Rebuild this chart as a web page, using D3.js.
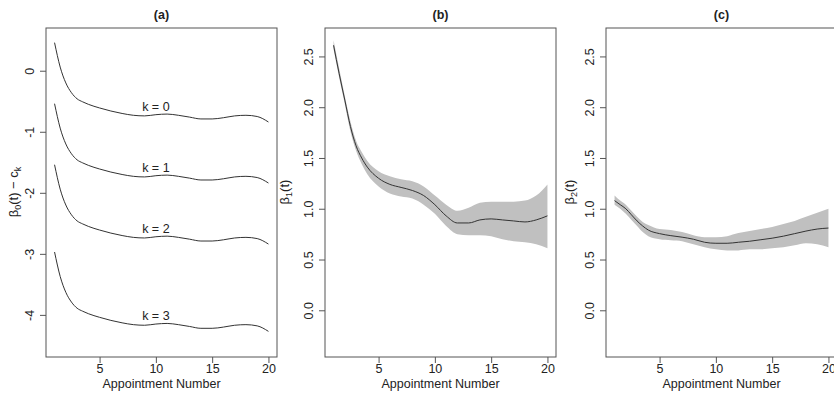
<!DOCTYPE html>
<html>
<head>
<meta charset="utf-8">
<script src="https://cdn.jsdelivr.net/npm/d3@7"></script>
<style>
  body { margin: 0; background: #fff; }
  svg { font-family: "Liberation Sans", Arial, sans-serif; }
</style>
</head>
<body>
<div id="chart"></div>
<script>
// appointment grid the curves were read at
var tGrid = [1, 1.5, 2, 2.5, 3, 3.5, 4, 5, 6, 7, 8, 9, 10, 11, 12, 13, 14, 15, 16, 17, 18, 19, 20];

// panel (a): beta0(t), shifted by c_k
var base0 = [0.46, 0.06, -0.20, -0.36, -0.46, -0.51, -0.55, -0.61, -0.66, -0.70, -0.73, -0.74, -0.72, -0.71, -0.73, -0.76, -0.79, -0.79, -0.77, -0.74, -0.73, -0.75, -0.84];
var cK = [0, 1, 2, 3.43];
var kLabels = ["k = 0", "k = 1", "k = 2", "k = 3"];

// panel (b): beta1(t) with band
var beta1 = [2.61, 2.33, 2.07, 1.81, 1.62, 1.50, 1.41, 1.30, 1.24, 1.21, 1.18, 1.13, 1.04, 0.93, 0.86, 0.86, 0.89, 0.90, 0.89, 0.88, 0.87, 0.89, 0.93];
var beta1Lo = [2.57, 2.29, 2.03, 1.76, 1.57, 1.44, 1.34, 1.22, 1.15, 1.12, 1.10, 1.04, 0.95, 0.83, 0.75, 0.74, 0.74, 0.73, 0.70, 0.68, 0.67, 0.65, 0.61];
var beta1Hi = [2.66, 2.38, 2.11, 1.86, 1.67, 1.56, 1.47, 1.37, 1.32, 1.29, 1.27, 1.22, 1.13, 1.04, 0.98, 1.01, 1.06, 1.07, 1.07, 1.07, 1.08, 1.13, 1.24];

// panel (c): beta2(t) with band
var beta2 = [1.08, 1.04, 1.00, 0.94, 0.88, 0.83, 0.79, 0.755, 0.735, 0.72, 0.70, 0.67, 0.66, 0.66, 0.67, 0.68, 0.695, 0.71, 0.73, 0.755, 0.78, 0.80, 0.81];
var beta2Lo = [1.04, 1.00, 0.95, 0.89, 0.83, 0.77, 0.73, 0.70, 0.69, 0.68, 0.65, 0.62, 0.60, 0.59, 0.59, 0.60, 0.60, 0.61, 0.62, 0.64, 0.66, 0.65, 0.62];
var beta2Hi = [1.13, 1.08, 1.04, 0.98, 0.92, 0.87, 0.84, 0.80, 0.79, 0.77, 0.74, 0.72, 0.72, 0.73, 0.76, 0.78, 0.80, 0.82, 0.85, 0.88, 0.92, 0.96, 1.00];

var xTicks = [5, 10, 15, 20];
var yTicksA = [-4, -3, -2, -1, 0];
var yTicksBC = [0, 0.5, 1, 1.5, 2, 2.5];

var W = 834, H = 394;
var plotTop = 28, ph = 329, pw = 231;
var textCol = "#222", boxCol = "#555", lineCol = "#333", bandCol = "#c0c0c0";

var svg = d3.select("#chart").append("svg")
  .attr("width", W)
  .attr("height", H);

var drawPanel = function(left, title, yDomain, yTicks, yFmt) {
  var x = d3.scaleLinear().domain([0.24, 20.76]).range([0, pw]);
  var y = d3.scaleLinear().domain(yDomain).range([ph, 0]);

  var g = svg.append("g")
    .attr("transform", "translate(" + left + "," + plotTop + ")");

  // x axis
  var xa = g.append("g")
    .attr("transform", "translate(0," + ph + ")")
    .call(d3.axisBottom(x).tickValues(xTicks).tickSize(6).tickPadding(1).tickSizeOuter(0));
  xa.select(".domain").remove();
  xa.selectAll("line").attr("stroke", boxCol);
  xa.selectAll("text").attr("fill", textCol).style("font-size", "12.5px");

  // y axis, labels parallel to the axis
  var ya = g.append("g")
    .call(d3.axisLeft(y).tickValues(yTicks).tickSize(6).tickFormat(yFmt).tickSizeOuter(0));
  ya.select(".domain").remove();
  ya.selectAll("line").attr("stroke", boxCol);
  ya.selectAll("text")
    .attr("fill", textCol)
    .style("font-size", "12.5px")
    .attr("x", null).attr("dy", null)
    .attr("text-anchor", "middle")
    .attr("dominant-baseline", "central")
    .attr("transform", "translate(-16,0) rotate(-90)");

  g.append("text")
    .attr("x", pw / 2)
    .attr("y", -9)
    .attr("text-anchor", "middle")
    .attr("fill", textCol)
    .style("font-size", "12.5px")
    .style("font-weight", "bold")
    .text(title);

  g.append("text")
    .attr("x", pw / 2)
    .attr("y", ph + 31)
    .attr("text-anchor", "middle")
    .attr("fill", textCol)
    .style("font-size", "12.5px")
    .text("Appointment Number");

  return { g: g, x: x, y: y };
};

var lineOf = function(p, vals) {
  return d3.line()
    .x(function(d, i) { return p.x(tGrid[i]); })
    .y(function(d) { return p.y(d); })
    .curve(d3.curveMonotoneX)(vals);
};

var bandOf = function(p, lo, hi) {
  return d3.area()
    .x(function(d, i) { return p.x(tGrid[i]); })
    .y0(function(d, i) { return p.y(lo[i]); })
    .y1(function(d, i) { return p.y(hi[i]); })
    .curve(d3.curveMonotoneX)(tGrid);
};

var box = function(p) {
  p.g.append("rect")
    .attr("width", pw).attr("height", ph)
    .attr("fill", "none")
    .attr("stroke", boxCol)
    .attr("stroke-width", 1);
};

var fmt1 = d3.format(".1f");
var fmtInt = function(d) { return String(d); }; // plain hyphen like R

// (a)
var pa = drawPanel(46, "(a)", [-4.69, 0.70], yTicksA, fmtInt);
cK.forEach(function(c, k) {
  var vals = base0.map(function(v) { return v - c; });
  pa.g.append("path")
    .attr("d", lineOf(pa, vals))
    .attr("fill", "none")
    .attr("stroke", lineCol)
    .attr("stroke-width", 1);
  pa.g.append("text")
    .attr("x", pa.x(10))
    .attr("y", pa.y(base0[12] - c) - 4)
    .attr("text-anchor", "middle")
    .attr("fill", textCol)
    .style("font-size", "12.5px")
    .text(kLabels[k]);
});
box(pa);
svg.append("text")
  .attr("transform", "translate(18,192) rotate(-90)")
  .attr("text-anchor", "middle")
  .attr("fill", textCol)
  .style("font-size", "13px")
  .html('β<tspan dy="3" font-size="9">0</tspan><tspan dy="-3">(t) − c</tspan><tspan dy="3" font-size="9">k</tspan>');

// (b)
var pb = drawPanel(325, "(b)", [-0.46, 2.78], yTicksBC, fmt1);
pb.g.append("path").attr("d", bandOf(pb, beta1Lo, beta1Hi)).attr("fill", bandCol);
pb.g.append("path").attr("d", lineOf(pb, beta1))
  .attr("fill", "none").attr("stroke", lineCol).attr("stroke-width", 1);
box(pb);
svg.append("text")
  .attr("transform", "translate(289,192) rotate(-90)")
  .attr("text-anchor", "middle")
  .attr("fill", textCol)
  .style("font-size", "13px")
  .html('β<tspan dy="3" font-size="9">1</tspan><tspan dy="-3">(t)</tspan>');

// (c)
var pc = drawPanel(606, "(c)", [-0.46, 2.78], yTicksBC, fmt1);
pc.g.append("path").attr("d", bandOf(pc, beta2Lo, beta2Hi)).attr("fill", bandCol);
pc.g.append("path").attr("d", lineOf(pc, beta2))
  .attr("fill", "none").attr("stroke", lineCol).attr("stroke-width", 1);
box(pc);
svg.append("text")
  .attr("transform", "translate(574,192) rotate(-90)")
  .attr("text-anchor", "middle")
  .attr("fill", textCol)
  .style("font-size", "13px")
  .html('β<tspan dy="3" font-size="9">2</tspan><tspan dy="-3">(t)</tspan>');
</script>
</body>
</html>
